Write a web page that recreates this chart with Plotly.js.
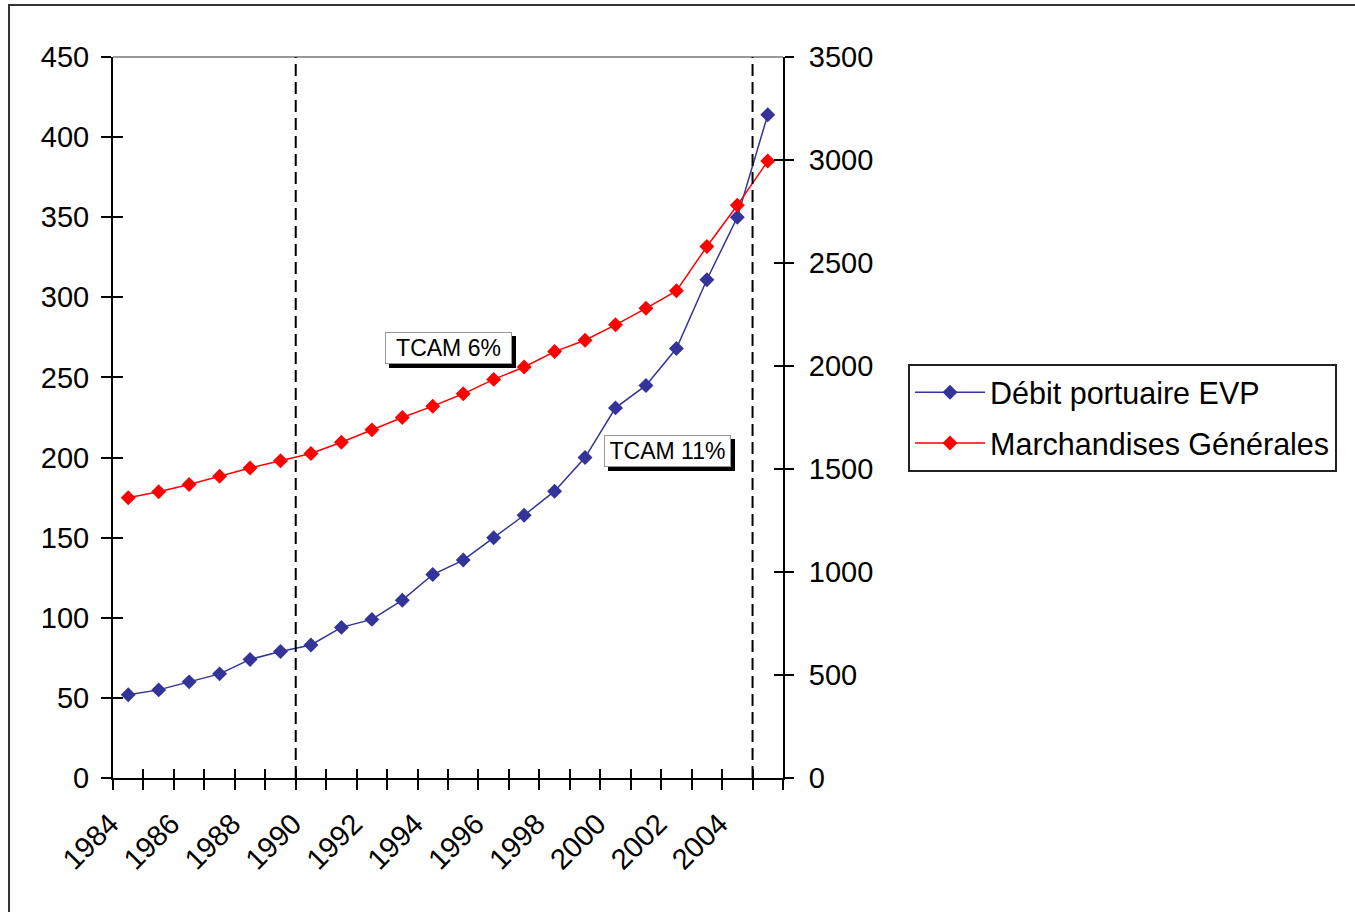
<!DOCTYPE html>
<html><head><meta charset="utf-8">
<script src="https://cdn.plot.ly/plotly-3.0.1.min.js"></script>
<style>html,body{margin:0;padding:0;background:#fff}#chart{width:1355px;height:912px}</style>
</head><body><div id="chart"></div>
<script>
const years = [1984,1985,1986,1987,1988,1989,1990,1991,1992,1993,1994,1995,1996,1997,1998,1999,2000,2001,2002,2003,2004,2005];
const debitEVP = [52,55,60,65,74,79,83,94,99,111,127,136,150,164,179,200,231,245,268,311,350,414];
const marchandises = [1360,1390,1425,1465,1505,1540,1575,1630,1690,1750,1805,1865,1935,1995,2070,2125,2200,2280,2365,2580,2780,2995];
const yearLabelVals = [1984,1986,1988,1990,1992,1994,1996,1998,2000,2002,2004];
const yearLabels = ['1984','1986','1988','1990','1992','1994','1996','1998','2000','2002','2004'];
const leftTicks = [0,50,100,150,200,250,300,350,400,450];
const rightTicks = [0,500,1000,1500,2000,2500,3000,3500];
const periodBreaks = [1989.5, 2004.5];
const seriesNames = ['Débit portuaire EVP','Marchandises Générales'];
const tcamTexts = ['TCAM 6%','TCAM 11%'];

const FONT = 'Liberation Sans, Arial, sans-serif';
const boundaries = years.map(y => y - 0.5).concat([years[years.length-1] + 0.5]);
const xRange = [boundaries[0], boundaries[boundaries.length-1]];

const traces = [
  {x: years, y: debitEVP, name: seriesNames[0], type: 'scatter', mode: 'lines+markers',
   xaxis: 'x', yaxis: 'y', legendgroup: 'a',
   line: {color: '#333399', width: 1.5}, marker: {symbol: 'diamond', size: 11.5, color: '#333399'}},
  {x: years, y: marchandises, name: seriesNames[1], type: 'scatter', mode: 'lines+markers',
   xaxis: 'x2', yaxis: 'y2', legendgroup: 'b',
   line: {color: '#ff0000', width: 1.5}, marker: {symbol: 'diamond', size: 11.5, color: '#ff0000'}},
  // empty helper traces so the tick-only overlay axes get drawn
  {x: [], y: [], xaxis: 'x3', yaxis: 'y3', type: 'scatter', mode: 'markers', showlegend: false, hoverinfo: 'skip'},
  {x: [], y: [], xaxis: 'x3', yaxis: 'y4', type: 'scatter', mode: 'markers', showlegend: false, hoverinfo: 'skip'}
];

const baseAx = {showgrid: false, zeroline: false, fixedrange: true};
const tickFont = {family: FONT, size: 29, color: '#000'};

const layout = {
  width: 1355, height: 912,
  margin: {l: 113, r: 572, t: 57, b: 134, autoexpand: false},
  paper_bgcolor: '#fff', plot_bgcolor: '#fff',
  font: {family: FONT, color: '#000'},
  showlegend: true,
  xaxis: Object.assign({}, baseAx, {range: xRange, tickmode: 'array', tickvals: boundaries,
    ticks: 'outside', ticklen: 10, tickwidth: 2, tickcolor: '#000', showticklabels: false,
    showline: true, linecolor: '#000', linewidth: 2}),
  xaxis2: Object.assign({}, baseAx, {overlaying: 'x', anchor: 'y', side: 'bottom', range: xRange,
    tickmode: 'array', tickvals: yearLabelVals, ticktext: yearLabels, ticks: '', tickangle: -45,
    tickfont: tickFont, ticklabelstandoff: 22, ticklabelshift: -18, showline: false}),
  xaxis3: Object.assign({}, baseAx, {overlaying: 'x', anchor: 'y', side: 'bottom', range: xRange,
    tickmode: 'array', tickvals: boundaries, ticks: 'inside', ticklen: 9, tickwidth: 2, tickcolor: '#000',
    showticklabels: false, showline: false}),
  yaxis: Object.assign({}, baseAx, {range: [0, 450], tickmode: 'array', tickvals: leftTicks,
    ticks: 'outside', ticklen: 10, tickwidth: 2, tickcolor: '#000', tickfont: tickFont,
    ticklabelstandoff: 6, showline: true, linecolor: '#000', linewidth: 2}),
  yaxis2: Object.assign({}, baseAx, {overlaying: 'y', anchor: 'x', side: 'right', range: [0, 3500],
    tickmode: 'array', tickvals: rightTicks, ticks: 'outside', ticklen: 9, tickwidth: 2, tickcolor: '#000',
    tickfont: tickFont, ticklabelstandoff: 9, showline: true, linecolor: '#000', linewidth: 2}),
  yaxis3: Object.assign({}, baseAx, {overlaying: 'y', anchor: 'x', side: 'left', range: [0, 450],
    tickmode: 'array', tickvals: leftTicks, ticks: 'inside', ticklen: 10, tickwidth: 2, tickcolor: '#000',
    showticklabels: false, showline: false}),
  yaxis4: Object.assign({}, baseAx, {overlaying: 'y', anchor: 'x', side: 'right', range: [0, 3500],
    tickmode: 'array', tickvals: rightTicks, ticks: 'inside', ticklen: 9, tickwidth: 2, tickcolor: '#000',
    showticklabels: false, showline: false}),
  legend: {x: 1.1866, y: 0.5742, xanchor: 'left', yanchor: 'top', bgcolor: '#fff',
    bordercolor: '#222', borderwidth: 2, font: {family: FONT, size: 30.5, color: '#000'},
    itemwidth: 70, traceorder: 'grouped', tracegroupgap: 8},
  shapes: [
    {type: 'rect', xref: 'paper', yref: 'paper', x0: -0.1552, x1: 3, y0: -2, y1: 1.0721,
     line: {color: '#333', width: 2}, fillcolor: 'rgba(0,0,0,0)', layer: 'below'},
    {type: 'line', xref: 'paper', yref: 'paper', x0: 0, x1: 1, y0: 1, y1: 1,
     line: {color: '#999', width: 2}}
  ].concat(periodBreaks.map(b => ({type: 'line', xref: 'x', yref: 'paper', x0: b, x1: b, y0: 0, y1: 1,
     line: {color: '#000', width: 2, dash: '12px,6px'}}))),
  annotations: []
};

const tcamPos = [{x: 0.5007, y: 0.5964}, {x: 0.827, y: 0.4535}];
tcamTexts.forEach((t, i) => {
  const common = {xref: 'paper', yref: 'paper', x: tcamPos[i].x, y: tcamPos[i].y,
    xanchor: 'center', yanchor: 'middle', showarrow: false, width: 123, height: 28,
    font: {family: FONT, size: 23, color: '#000'}};
  // drop shadow box
  layout.annotations.push(Object.assign({}, common, {text: ' ', xshift: 4, yshift: -4,
    bgcolor: '#000', bordercolor: '#000', borderwidth: 1}));
  layout.annotations.push(Object.assign({}, common, {text: t, bgcolor: '#fff', bordercolor: '#999', borderwidth: 1}));
});

Plotly.newPlot('chart', traces, layout, {displayModeBar: false, staticPlot: true});
</script>
</body></html>
